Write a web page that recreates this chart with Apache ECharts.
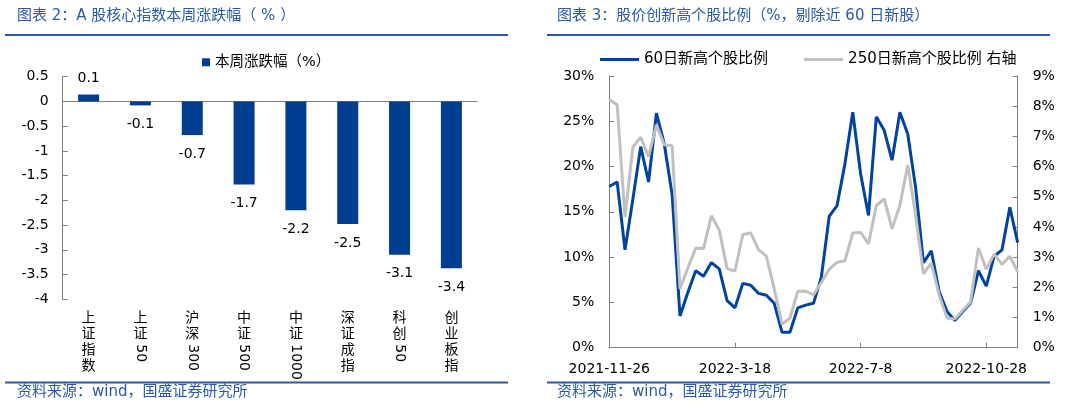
<!DOCTYPE html>
<html><head><meta charset="utf-8">
<script src="https://cdn.jsdelivr.net/npm/echarts@6/dist/echarts.min.js"></script>
<style>html,body{margin:0;padding:0;background:#fff}#c{width:1080px;height:407px}</style>
</head><body><div id="c"></div>
<script>
// ---- Left chart data ----
const indexNames = ['上证指数','上证50','沪深300','中证500','中证1000','深证成指','科创50','创业板指'];
const weeklyChange = [0.14, -0.08, -0.68, -1.68, -2.2, -2.48, -3.1, -3.37];

// ---- Right chart data ----
const weekDates = [
 '2021-11-26','2021-12-3','2021-12-10','2021-12-17','2021-12-24','2021-12-31',
 '2022-1-7','2022-1-14','2022-1-21','2022-1-28','2022-2-4','2022-2-11','2022-2-18','2022-2-25',
 '2022-3-4','2022-3-11','2022-3-18','2022-3-25','2022-4-1','2022-4-8','2022-4-15','2022-4-22','2022-4-29',
 '2022-5-6','2022-5-13','2022-5-20','2022-5-27','2022-6-3','2022-6-10','2022-6-17','2022-6-24',
 '2022-7-1','2022-7-8','2022-7-15','2022-7-22','2022-7-29','2022-8-5','2022-8-12','2022-8-19','2022-8-26',
 '2022-9-2','2022-9-9','2022-9-16','2022-9-23','2022-9-30','2022-10-7','2022-10-14','2022-10-21','2022-10-28',
 '2022-11-4','2022-11-11','2022-11-18','2022-11-25'
];
const newHigh60 = [
 17.8, 18.3, 10.8, 16.4, 22.2, 18.3, 25.9, 22.5, 16.9, 3.5,
 6.1, 8.5, 7.9, 9.4, 8.7, 5.2, 4.4, 7.1, 6.9, 6.0,
 5.8, 4.9, 1.7, 1.7, 4.4, 4.7, 4.9, 7.8, 14.5, 15.7,
 20.3, 26.0, 19.2, 14.6, 25.5, 24.0, 20.7, 26.0, 23.6, 17.7,
 9.4, 10.7, 6.2, 4.0, 3.0, 4.0, 4.9, 8.5, 6.8, 10.1,
 10.8, 15.5, 11.6
];
const newHigh250 = [
 8.22, 8.05, 4.33, 6.65, 6.97, 6.33, 7.38, 6.72, 6.69, 1.95,
 2.64, 3.30, 3.29, 4.37, 3.90, 2.62, 2.54, 3.75, 3.80, 3.25,
 3.03, 1.95, 0.78, 0.98, 1.87, 1.87, 1.75, 2.16, 2.60, 2.83,
 2.88, 3.80, 3.82, 3.44, 4.71, 4.93, 3.94, 4.71, 6.05, 4.40,
 2.45, 2.80, 1.75, 0.98, 0.95, 1.24, 1.51, 3.30, 2.60, 3.10,
 2.76, 3.03, 2.51
];

const FONT = 'DejaVu Sans, "Noto Sans CJK SC", sans-serif';
const TITLE_BLUE = '#2a5ba8';
const RULE_BLUE = '#2b5aa5';
const BAR_BLUE = '#003e92';
const LINE_BLUE = '#00449e';
const LINE_GRAY = '#c0c0c0';
const AXIS_GRAY = '#7f7f7f';

function cjkPart(n){ return n.replace(/\d+$/,''); }
function digitPart(n){ const m = n.match(/\d+$/); return m ? m[0] : ''; }

const chart = echarts.init(document.getElementById('c'), null, {renderer:'canvas'});

const option = {
  animation: false,
  backgroundColor: '#fff',
  textStyle: { fontFamily: FONT },
  grid: [
    { left: 62.7, right: 602.7, top: 76.7, bottom: 107.7 },
    { left: 609.3, right: 62.3, top: 76, bottom: 59.3 }
  ],
  legend: [
    { data: ['本周涨跌幅（%）'], left: 197, top: 50, icon: 'rect', itemWidth: 8, itemHeight: 8,
      textStyle: { fontSize: 14.5, color: '#000', fontFamily: FONT } },
    { data: ['60日新高个股比例','250日新高个股比例 右轴'], left: 595, top: 47, icon: 'rect',
      itemWidth: 39, itemHeight: 3, itemGap: 36,
      textStyle: { fontSize: 15, color: '#000', fontFamily: FONT } }
  ],
  xAxis: [
    { type: 'category', gridIndex: 0, data: indexNames,
      axisLine: { onZero: true, lineStyle: { color: AXIS_GRAY } },
      axisTick: { inside: true, length: 5, lineStyle: { color: AXIS_GRAY } },
      axisLabel: { show: false } },
    { type: 'category', gridIndex: 0, data: indexNames, position: 'bottom',
      axisLine: { show: false, onZero: false }, axisTick: { show: false },
      axisLabel: { interval: 0, margin: 11, fontSize: 14, lineHeight: 16, color: '#000',
        formatter: n => cjkPart(n).split('').join('\n') } },
    { type: 'category', gridIndex: 0, data: indexNames, position: 'bottom',
      axisLine: { show: false, onZero: false }, axisTick: { show: false },
      axisLabel: { interval: 0, margin: 45, rotate: -90, fontSize: 14, color: '#000',
        formatter: n => digitPart(n) } },
    { type: 'category', gridIndex: 1, data: weekDates, boundaryGap: false,
      axisLine: { lineStyle: { color: AXIS_GRAY } },
      axisTick: { inside: true, length: 5, interval: 15, lineStyle: { color: AXIS_GRAY } },
      axisLabel: { interval: 15, margin: 15, fontSize: 14, color: '#000' } }
  ],
  yAxis: [
    { type: 'value', gridIndex: 0, min: -4, max: 0.5, interval: 0.5,
      axisLine: { show: true, lineStyle: { color: AXIS_GRAY } },
      axisTick: { show: true, inside: true, length: 5, lineStyle: { color: AXIS_GRAY } },
      splitLine: { show: false },
      axisLabel: { margin: 14, fontSize: 14, color: '#000' } },
    { type: 'value', gridIndex: 1, min: 0, max: 30, interval: 5, position: 'left',
      axisLine: { show: true, lineStyle: { color: AXIS_GRAY } },
      axisTick: { show: true, inside: true, length: 5, lineStyle: { color: AXIS_GRAY } },
      splitLine: { show: false },
      axisLabel: { margin: 15, fontSize: 14, color: '#000', formatter: '{value}%' } },
    { type: 'value', gridIndex: 1, min: 0, max: 9, interval: 1, position: 'right',
      axisLine: { show: true, lineStyle: { color: AXIS_GRAY } },
      axisTick: { show: true, inside: true, length: 5, lineStyle: { color: AXIS_GRAY } },
      splitLine: { show: false },
      axisLabel: { margin: 15, fontSize: 14, color: '#000', formatter: '{value}%' } }
  ],
  series: [
    { name: '本周涨跌幅（%）', type: 'bar', xAxisIndex: 0, yAxisIndex: 0, barWidth: 21,
      itemStyle: { color: BAR_BLUE },
      data: weeklyChange.map(v => ({ value: v, label: { distance: v >= 0 ? 9 : 12 } })),
      label: { show: true, position: 'outside', fontSize: 14, color: '#000', fontFamily: FONT,
        formatter: p => p.value.toFixed(1) } },
    { name: '60日新高个股比例', type: 'line', xAxisIndex: 3, yAxisIndex: 1, data: newHigh60,
      showSymbol: false, symbol: 'none', color: LINE_BLUE, lineStyle: { width: 3, color: LINE_BLUE } },
    { name: '250日新高个股比例 右轴', type: 'line', xAxisIndex: 3, yAxisIndex: 2, data: newHigh250,
      showSymbol: false, symbol: 'none', color: LINE_GRAY, lineStyle: { width: 3, color: LINE_GRAY } }
  ],
  graphic: [
    { type: 'text', left: 17, top: 9, style: { text: '图表 2：A 股核心指数本周涨跌幅（ % ）', fontSize: 15, fill: TITLE_BLUE, fontFamily: FONT } },
    { type: 'text', left: 557, top: 9, style: { text: '图表 3：股价创新高个股比例（%，剔除近 60 日新股）', fontSize: 15, fill: TITLE_BLUE, fontFamily: FONT } },
    { type: 'line', shape: { x1: 5, y1: 35, x2: 508, y2: 35 }, style: { stroke: RULE_BLUE, lineWidth: 2 } },
    { type: 'line', shape: { x1: 547, y1: 35, x2: 1050, y2: 35 }, style: { stroke: RULE_BLUE, lineWidth: 2 } },
    { type: 'line', shape: { x1: 5, y1: 382.5, x2: 508, y2: 382.5 }, style: { stroke: RULE_BLUE, lineWidth: 2 } },
    { type: 'line', shape: { x1: 547, y1: 382.5, x2: 1050, y2: 382.5 }, style: { stroke: RULE_BLUE, lineWidth: 2 } },
    { type: 'text', left: 17, top: 385, style: { text: '资料来源：wind，国盛证券研究所', fontSize: 15, fill: TITLE_BLUE, fontFamily: FONT } },
    { type: 'text', left: 557, top: 385, style: { text: '资料来源：wind，国盛证券研究所', fontSize: 15, fill: TITLE_BLUE, fontFamily: FONT } }
  ]
};
chart.setOption(option);
</script>
</body></html>
